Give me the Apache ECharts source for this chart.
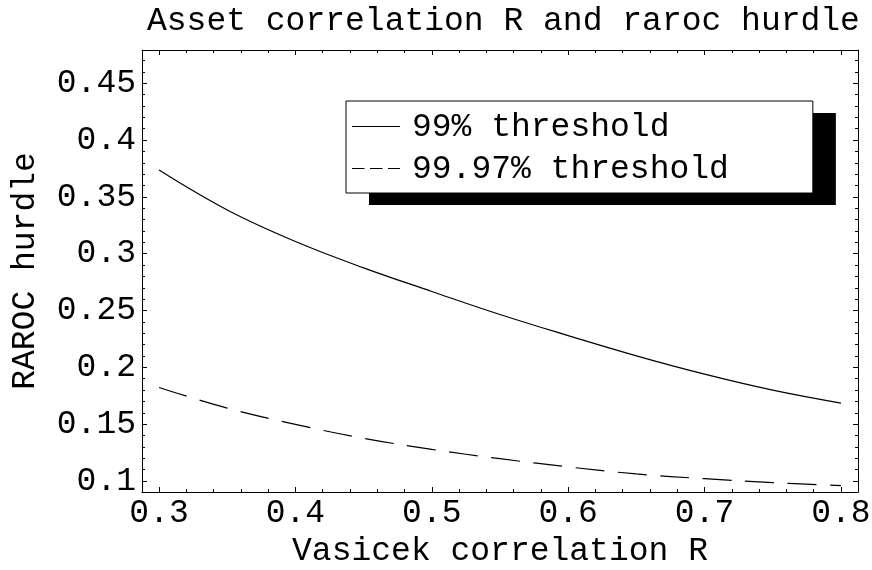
<!DOCTYPE html>
<html>
<head>
<meta charset="utf-8">
<script src="https://cdn.jsdelivr.net/npm/echarts@6/dist/echarts.min.js"></script>
<style>
html,body{margin:0;padding:0;background:#fff;}
#chart{width:872px;height:570px;}
</style>
</head>
<body>
<div id="chart"></div>
<script>
// ---- data ----
const xValues = [0.30, 0.35, 0.40, 0.45, 0.50, 0.55, 0.60, 0.65, 0.70, 0.75, 0.80];
const hurdle99 = [0.3736, 0.3385, 0.3108, 0.2876, 0.2668, 0.2465, 0.2279, 0.2101, 0.1940, 0.1799, 0.1685];
const hurdle9997 = [0.1823, 0.1641, 0.1498, 0.1376, 0.1278, 0.1196, 0.1124, 0.1062, 0.1020, 0.0986, 0.0959];
const seriesNames = ['99% threshold', '99.97% threshold'];

const xMajorTicks = [0.3, 0.4, 0.5, 0.6, 0.7, 0.8];
const xMinorTicks = [0.32, 0.34, 0.36, 0.38, 0.42, 0.44, 0.46, 0.48, 0.52, 0.54, 0.56, 0.58,
                     0.62, 0.64, 0.66, 0.68, 0.72, 0.74, 0.76, 0.78];
const yMajorTicks = [0.1, 0.15, 0.2, 0.25, 0.3, 0.35, 0.4, 0.45];
const yMinorTicks = [0.11, 0.12, 0.13, 0.14, 0.16, 0.17, 0.18, 0.19, 0.21, 0.22, 0.23, 0.24,
                     0.26, 0.27, 0.28, 0.29, 0.31, 0.32, 0.33, 0.34, 0.36, 0.37, 0.38, 0.39,
                     0.41, 0.42, 0.43, 0.44, 0.46, 0.47];
const xRange = [0.2875, 0.8125];
const yRange = [0.0903, 0.4793];

const FONT = "'Liberation Mono', 'Courier New', 'DejaVu Sans Mono', monospace";
const FS = 33;

function makeAxis(position, ticks, len, isMain, range) {
  return {
    type: 'value',
    gridIndex: 0,
    position: position,
    min: range[0],
    max: range[1],
    axisLine: { show: isMain, lineStyle: { color: '#000', width: 1 } },
    axisTick: { show: true, inside: true, length: len, customValues: ticks,
                lineStyle: { color: '#000', width: 1 } },
    axisLabel: { show: false },
    splitLine: { show: false },
    minorTick: { show: false },
    minorSplitLine: { show: false }
  };
}

const xAxes = [
  makeAxis('bottom', xMajorTicks, 5, true, xRange),
  makeAxis('bottom', xMinorTicks, 3, false, xRange),
  makeAxis('top', xMajorTicks, 5, true, xRange),
  makeAxis('top', xMinorTicks, 3, false, xRange)
];
xAxes[0].axisLabel = { show: true, customValues: xMajorTicks, margin: 5, color: '#000',
  fontFamily: FONT, fontSize: FS, formatter: v => String(+v.toFixed(2)) };
xAxes[0].name = 'Vasicek correlation R';
xAxes[0].nameLocation = 'middle';
xAxes[0].nameGap = 43;
xAxes[0].nameTextStyle = { color: '#000', fontFamily: FONT, fontSize: FS };

const yAxes = [
  makeAxis('left', yMajorTicks, 5, true, yRange),
  makeAxis('left', yMinorTicks, 3, false, yRange),
  makeAxis('right', yMajorTicks, 5, true, yRange),
  makeAxis('right', yMinorTicks, 3, false, yRange)
];
yAxes[0].axisLabel = { show: true, customValues: yMajorTicks, margin: 6, color: '#000',
  fontFamily: FONT, fontSize: FS, formatter: v => String(+v.toFixed(2)) };
yAxes[0].name = 'RAROC hurdle';
yAxes[0].nameLocation = 'middle';
yAxes[0].nameGap = 100;
yAxes[0].nameRotate = 90;
yAxes[0].nameTextStyle = { color: '#000', fontFamily: FONT, fontSize: FS };

const legendBase = {
  orient: 'vertical',
  padding: [8, 84, 6, 6],
  itemGap: 6,
  itemWidth: 48,
  itemHeight: 36,
  selectedMode: false,
  borderRadius: 0,
  data: seriesNames.slice()
};
const legendTextStyle = { fontFamily: FONT, fontSize: FS, lineHeight: 36, padding: [0, 0, 0, 6] };

const chart = echarts.init(document.getElementById('chart'), null, { renderer: 'canvas' });
chart.setOption({
  backgroundColor: '#fff',
  animation: false,
  title: {
    text: 'Asset correlation R and raroc hurdle',
    left: 147,
    top: 5,
    padding: 0,
    textStyle: { color: '#000', fontFamily: FONT, fontSize: FS, fontWeight: 'normal' }
  },
  grid: { left: 142, right: 14, top: 50, bottom: 78, containLabel: false, outerBoundsMode: 'none' },
  xAxis: xAxes,
  yAxis: yAxes,
  legend: [
    // drop-shadow block: same size as the legend, shifted
    Object.assign({}, legendBase, {
      left: 369,
      top: 113,
      z: 3,
      backgroundColor: '#000',
      borderWidth: 0,
      itemStyle: { opacity: 0 },
      lineStyle: { opacity: 0 },
      textStyle: Object.assign({ color: 'rgba(0,0,0,0)' }, legendTextStyle)
    }),
    // visible legend (its line samples are drawn below as graphics)
    Object.assign({}, legendBase, {
      left: 346,
      top: 101,
      z: 6,
      backgroundColor: '#fff',
      borderColor: '#000',
      borderWidth: 1,
      itemStyle: { opacity: 0 },
      lineStyle: { opacity: 0 },
      textStyle: Object.assign({ color: '#000' }, legendTextStyle)
    })
  ],
  graphic: [
    { type: 'line', z: 20, shape: { x1: 352, y1: 126.5, x2: 400, y2: 126.5 },
      style: { stroke: '#000', lineWidth: 1 } },
    { type: 'line', z: 20, shape: { x1: 352, y1: 168.5, x2: 400, y2: 168.5 },
      style: { stroke: '#000', lineWidth: 1, lineDash: [12.5, 5.5] } }
  ],
  series: [
    {
      name: seriesNames[0],
      type: 'line',
      xAxisIndex: 0, yAxisIndex: 0,
      data: xValues.map((x, i) => [x, hurdle99[i]]),
      smooth: 0.4,
      symbol: 'none',
      lineStyle: { color: '#000', width: 1.2 },
      itemStyle: { color: '#000' }
    },
    {
      name: seriesNames[1],
      type: 'line',
      xAxisIndex: 0, yAxisIndex: 0,
      data: xValues.map((x, i) => [x, hurdle9997[i]]),
      smooth: 0.4,
      symbol: 'none',
      lineStyle: { color: '#000', width: 1.2, type: [29, 13.5] },
      itemStyle: { color: '#000' }
    }
  ]
});
</script>
</body>
</html>
